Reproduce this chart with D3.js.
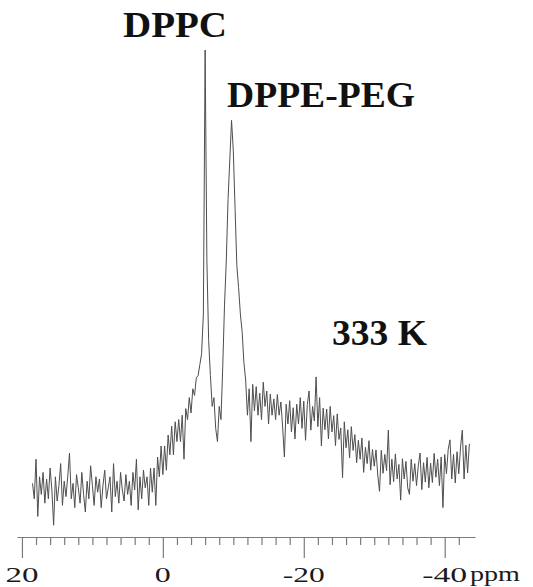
<!DOCTYPE html>
<html>
<head>
<meta charset="utf-8">
<script src="https://cdn.jsdelivr.net/npm/d3@7"></script>
<style>
  body { margin: 0; background: #fff; }
  svg { display: block; }
</style>
</head>
<body>
<svg id="chart" width="533" height="587"></svg>
<script>
// 31P NMR spectrum, sampled every 0.25 ppm; intensities in arbitrary units
const sampleStep = 0.25;

// 18.5 ... 2.0 ppm : flat baseline
const leftStart = 18.5;
const leftSegment = [
  1.5, -2, 7, -6, 3, -1, 4, -3, 2.5, -2, 5, 0, -8, 3, -2.5, 1,
  6, -3.5, 2, -1.5, 3, 8.4, -2, 1.5, -4, 3.5, 0.5, -3, 4, -1, -5, 2,
  -2, 5.5, 1, -3.5, 3, -0.5, 2.5, -4, 1, 4.5, -2, 0.5, 3, -5, 6, -1.5,
  2, -3, 4, 0, -2.5, 3.5, -1, 2, -3.5, 4, 0, 7, -4.5, 3, -2, 4.5,
  0.5, 3, -3.5
];

// 1.75 ... -12.0 ppm : rising wing, DPPC and DPPE-PEG resonances
const peakStart = 1.75;
const peakSegment = [
  5, -0.5, 5, -3.5, 7.5, 3, 10, 3.5, 10, 4.5, 12.5, 8, 14.5, 8, 15.5, 11,
  16, 11, 17, 7, 18.5, 16, 21, 17.5, 23, 21.5, 25.5, 26, 28.5, 31, 40, 100,
  52, 34, 26, 19, 21, 14, 11, 19, 16, 28, 42, 52, 66, 75, 84, 77,
  64, 51, 46, 40, 36, 29, 25, 17
];

// -12.25 ... -43.5 ppm : broad high-field shoulder
const rightStart = -12.25;
const rightSegment = [
  23, 11, 24, 18, 23.5, 17, 22, 16, 24.5, 19, 22.5, 15, 21.8, 17, 20.7, 16,
  21.7, 17, 20, 14.3, 7.5, 19.5, 15, 20.3, 13.2, 18.7, 11.6, 19.5, 15, 21, 14, 20.2,
  11.3, 19.4, 22.5, 13.6, 19, 15.7, 25.7, 14.4, 21, 10, 18.6, 13.7, 18.4, 11.6, 19, 13.2,
  16.9, 10.1, 17.3, 11.5, 14.1, 2.8, 15.5, 9.6, 13.7, 7.3, 14.4, 9, 12.6, 6.2, 11.3, 7,
  11.8, 4, 9.7, 6, 11.2, 4.5, 9.2, 5.4, 9.1, 3.4, -0.3, 9, 3.8, 8.1, 4.4, 13.6,
  1.2, 7, 1.9, 8.2, 2.5, 5.8, -2.3, 7.1, 2.5, 6.5, 0.5, -1, 7, 2, 6, 1,
  5.5, 8.4, 0.1, 6.2, 1.8, 7.4, 0.5, 6.1, 1.7, 8.3, 2.9, 7, 1, 7.5, -4, 8.1,
  3.7, 9.3, 11.4, 2.5, 8.1, 1.6, 8.7, 3.7, 9.8, 13.6, 2.5, 10.2, 3.9, 10.5
];

const majorTicks = [20, 0, -20, -40];
const minorTicks = [18, 16, 14, 12, 10, 8, 6, 4, 2, -2, -4, -6, -8, -10, -12, -14, -16, -18,
                    -22, -24, -26, -28, -30, -32, -34, -36, -38, -42];
const tickLabels = ["20", "0", "-20", "-40"];
const unitLabel = "ppm";
const peakNames = ["DPPC", "DPPE-PEG"];
const temperatureLabel = "333 K";

const segments = [
  { start: leftStart, values: leftSegment },
  { start: peakStart, values: peakSegment },
  { start: rightStart, values: rightSegment }
];
const spectrum = segments.flatMap(s =>
  s.values.map((v, i) => ({ ppm: s.start - sampleStep * i, value: v })));

const svg = d3.select("#chart");

// chemical shift axis runs high to low, left to right
const x = d3.scaleLinear().domain([20.7, -44.3]).range([17, 475]);
const y = d3.scaleLinear().domain([0, 100]).range([490, 50]);
const axisY = 537;

const line = d3.line()
  .x(d => x(d.ppm))
  .y(d => y(d.value));

svg.append("path")
  .datum(spectrum)
  .attr("fill", "none")
  .attr("stroke", "#4e4e4e")
  .attr("stroke-width", 1)
  .attr("stroke-linejoin", "round")
  .attr("d", line);

// axis: domain line with minor ticks, then long major ticks
const minorAxis = d3.axisBottom(x)
  .tickValues(minorTicks)
  .tickSize(8)
  .tickSizeOuter(0)
  .tickFormat("");
svg.append("g")
  .attr("transform", `translate(0,${axisY})`)
  .call(minorAxis);

const majorAxis = d3.axisBottom(x)
  .tickValues(majorTicks)
  .tickSize(21)
  .tickSizeOuter(0)
  .tickFormat("");
const gMajor = svg.append("g")
  .attr("transform", `translate(0,${axisY})`)
  .call(majorAxis);
gMajor.select(".domain").remove();

svg.selectAll(".tick line, .domain")
  .attr("stroke", "#7a7a7a")
  .attr("stroke-width", 1.2);

const labelWidths = [33, 16, 42, 45];
svg.append("g")
  .selectAll("text")
  .data(majorTicks)
  .join("text")
  .attr("x", d => x(d))
  .attr("y", 582)
  .attr("text-anchor", "middle")
  .attr("font-family", "Liberation Serif, serif")
  .attr("font-size", 22)
  .attr("fill", "#1a1a1a")
  .attr("textLength", (d, i) => labelWidths[i])
  .attr("lengthAdjust", "spacingAndGlyphs")
  .text((d, i) => tickLabels[i]);

svg.append("text")
  .attr("x", 470)
  .attr("y", 581)
  .attr("font-family", "Liberation Serif, serif")
  .attr("font-size", 20)
  .attr("fill", "#1a1a1a")
  .attr("textLength", 50)
  .attr("lengthAdjust", "spacingAndGlyphs")
  .text(unitLabel);

// peak and condition annotations
const annot = svg.append("g")
  .attr("font-family", "Liberation Serif, serif")
  .attr("font-weight", "bold")
  .attr("fill", "#111");

annot.append("text")
  .attr("x", 123).attr("y", 37)
  .attr("font-size", 36)
  .attr("textLength", 104)
  .attr("lengthAdjust", "spacingAndGlyphs")
  .text(peakNames[0]);

annot.append("text")
  .attr("x", 227).attr("y", 107)
  .attr("font-size", 36)
  .attr("textLength", 188)
  .attr("lengthAdjust", "spacingAndGlyphs")
  .text(peakNames[1]);

annot.append("text")
  .attr("x", 332).attr("y", 345)
  .attr("font-size", 36)
  .attr("textLength", 95)
  .attr("lengthAdjust", "spacingAndGlyphs")
  .text(temperatureLabel);
</script>
</body>
</html>
